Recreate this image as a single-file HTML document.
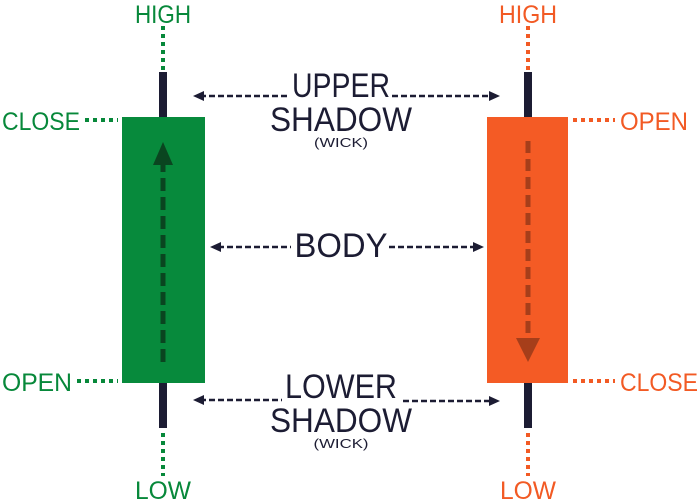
<!DOCTYPE html>
<html><head><meta charset="utf-8"><style>
html,body{margin:0;padding:0;background:#fff;}
svg{display:block;}
text{font-family:"Liberation Sans",sans-serif;}
</style></head><body>
<svg width="700" height="500" viewBox="0 0 700 500" xmlns="http://www.w3.org/2000/svg">
<!-- green candle -->
<line x1="163" y1="26" x2="163" y2="70" stroke="#07883a" stroke-width="4" stroke-dasharray="4,4"/>
<line x1="163" y1="433" x2="163" y2="476" stroke="#07883a" stroke-width="4" stroke-dasharray="4,4"/>
<rect x="159" y="72" width="8" height="356" fill="#1c1c33"/>
<rect x="122" y="117" width="83" height="266" fill="#078a3c"/>
<line x1="163" y1="362" x2="163" y2="162" stroke="#0a4520" stroke-width="5" stroke-dasharray="13,6"/>
<polygon points="163,142 153,165 173,165" fill="#0a4520"/>
<line x1="85" y1="120" x2="118" y2="120" stroke="#07883a" stroke-width="4" stroke-dasharray="4,4"/>
<line x1="77" y1="381" x2="118" y2="381" stroke="#07883a" stroke-width="4" stroke-dasharray="4,4"/>
<!-- orange candle -->
<line x1="528" y1="26" x2="528" y2="70" stroke="#f25a24" stroke-width="4" stroke-dasharray="4,4"/>
<line x1="528" y1="433" x2="528" y2="476" stroke="#f25a24" stroke-width="4" stroke-dasharray="4,4"/>
<rect x="524" y="72" width="8" height="356" fill="#1c1c33"/>
<rect x="487" y="117" width="81" height="266" fill="#f45b25"/>
<line x1="528" y1="141" x2="528" y2="340" stroke="#a63e1a" stroke-width="5" stroke-dasharray="12,6"/>
<polygon points="528,362 516,338 540,338" fill="#a63e1a"/>
<line x1="573" y1="120" x2="615" y2="120" stroke="#f25a24" stroke-width="4" stroke-dasharray="4,4"/>
<line x1="573" y1="381" x2="615" y2="381" stroke="#f25a24" stroke-width="4" stroke-dasharray="4,4"/>
<!-- labels -->
<g font-size="25" fill="#07883a">
<text x="163" y="23" text-anchor="middle" textLength="56" lengthAdjust="spacingAndGlyphs">HIGH</text>
<text x="163" y="499" text-anchor="middle" textLength="56" lengthAdjust="spacingAndGlyphs">LOW</text>
<text x="2" y="130" textLength="78" lengthAdjust="spacingAndGlyphs">CLOSE</text>
<text x="2" y="391" textLength="70" lengthAdjust="spacingAndGlyphs">OPEN</text>
</g>
<g font-size="25" fill="#f25a24">
<text x="528" y="23" text-anchor="middle" textLength="58" lengthAdjust="spacingAndGlyphs">HIGH</text>
<text x="528" y="499" text-anchor="middle" textLength="56" lengthAdjust="spacingAndGlyphs">LOW</text>
<text x="620" y="130" textLength="68" lengthAdjust="spacingAndGlyphs">OPEN</text>
<text x="620" y="391" textLength="78" lengthAdjust="spacingAndGlyphs">CLOSE</text>
</g>
<!-- center labels -->
<g fill="#1c1c33" stroke="#1c1c33">
<line x1="200" y1="96" x2="290" y2="96" stroke-width="2.5" stroke-dasharray="6,3"/>
<line x1="392" y1="96" x2="493" y2="96" stroke-width="2.5" stroke-dasharray="6,3"/>
<polygon points="193,96 204,91 204,101" stroke="none"/>
<polygon points="500,96 489,91 489,101" stroke="none"/>
<line x1="218" y1="247" x2="291" y2="247" stroke-width="2.5" stroke-dasharray="6,3"/>
<line x1="389" y1="247" x2="476" y2="247" stroke-width="2.5" stroke-dasharray="6,3"/>
<polygon points="210,247 221,242 221,252" stroke="none"/>
<polygon points="484,247 473,242 473,252" stroke="none"/>
<line x1="200" y1="400" x2="282" y2="400" stroke-width="2.5" stroke-dasharray="6,3"/>
<line x1="403" y1="401" x2="493" y2="401" stroke-width="2.5" stroke-dasharray="6,3"/>
<polygon points="193,400 204,395 204,405" stroke="none"/>
<polygon points="500,401 489,396 489,406" stroke="none"/>
</g>
<g fill="#1c1c33" font-size="34" text-anchor="middle">
<text x="341" y="97" textLength="98" lengthAdjust="spacingAndGlyphs">UPPER</text>
<text x="341" y="131" textLength="142" lengthAdjust="spacingAndGlyphs">SHADOW</text>
<text x="341" y="147" font-size="13" textLength="54" lengthAdjust="spacingAndGlyphs">(WICK)</text>
<text x="341" y="257" textLength="93" lengthAdjust="spacingAndGlyphs">BODY</text>
<text x="341" y="398" textLength="112" lengthAdjust="spacingAndGlyphs">LOWER</text>
<text x="341" y="432" textLength="142" lengthAdjust="spacingAndGlyphs">SHADOW</text>
<text x="341" y="448" font-size="13" textLength="55" lengthAdjust="spacingAndGlyphs">(WICK)</text>
</g>
</svg>
</body></html>
